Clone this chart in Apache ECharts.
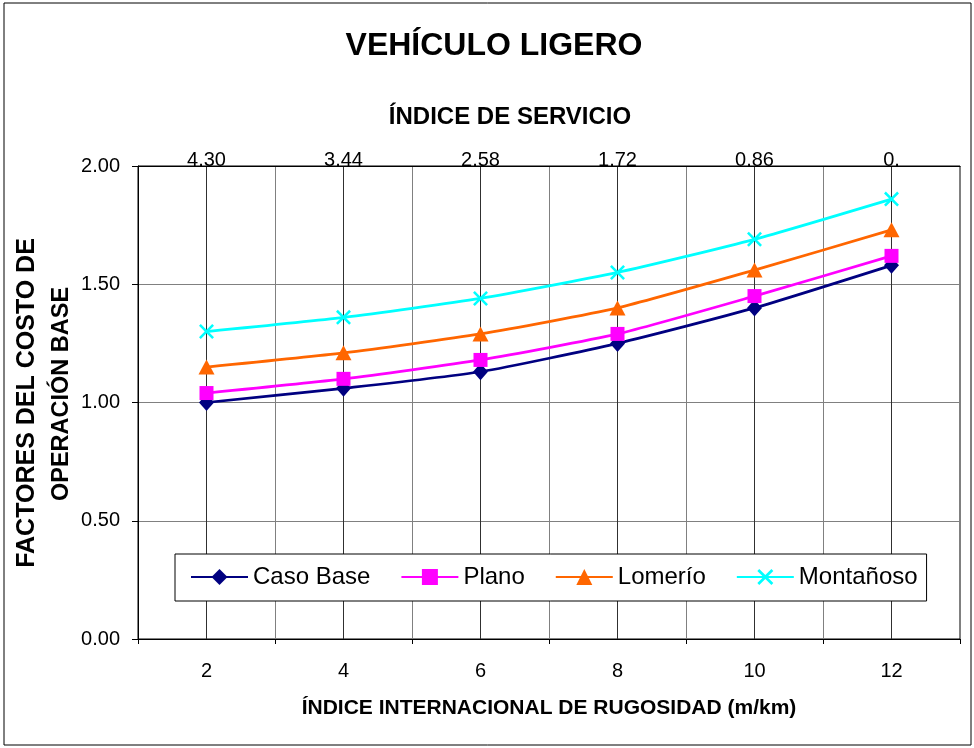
<!DOCTYPE html>
<html>
<head>
<meta charset="utf-8">
<script src="https://cdn.jsdelivr.net/npm/echarts@6/dist/echarts.min.js"></script>
<style>
  html, body { margin: 0; padding: 0; background: #fff; }
  #chart { width: 974px; height: 748px; }
</style>
</head>
<body>
<div id="chart"></div>
<script>
var axisCats = ['1', '2', '3', '4', '5', '6', '7', '8', '9', '10', '11', '12', '13'];
var xValues = ['2', '4', '6', '8', '10', '12'];
var topLabels = ['4.30', '3.44', '2.58', '1.72', '0.86', '0.'];
var casoBase = [1.00, 1.06, 1.13, 1.25, 1.40, 1.58];
var plano = [1.04, 1.10, 1.18, 1.29, 1.45, 1.62];
var lomerio = [1.15, 1.21, 1.29, 1.40, 1.56, 1.73];
var montanoso = [1.30, 1.36, 1.44, 1.55, 1.69, 1.86];

var fontName = '"Liberation Sans", Arial, sans-serif';
var crossPath = 'path://M0,1.2L1.2,0L5,3.8L8.8,0L10,1.2L6.2,5L10,8.8L8.8,10L5,6.2L1.2,10L0,8.8L3.8,5Z';

function pairs(vals) {
    return vals.map(function (v, i) { return [xValues[i], v]; });
}

function lineSeries(name, vals, color, symbol, size) {
    return {
        name: name,
        type: 'line',
        data: pairs(vals),
        smooth: 0.2,
        symbol: symbol,
        symbolSize: size,
        showAllSymbol: true,
        lineStyle: { color: color, width: 2.75 },
        itemStyle: { color: color },
        emphasis: { disabled: true },
        z: 3
    };
}

var dom = document.getElementById('chart');
var myChart = echarts.init(dom);
var option = {
    animation: false,
    backgroundColor: '#fff',
    textStyle: { fontFamily: fontName },
    grid: {
        left: 138, right: 14, top: 166, bottom: 109,
        show: true, borderColor: '#000', borderWidth: 1
    },
    legend: {
        left: 175, top: 554,
        backgroundColor: '#fff',
        borderColor: '#000', borderWidth: 1,
        padding: [11, 9, 12, 15],
        itemWidth: 57, itemHeight: 20, itemGap: 30,
        selectedMode: false,
        textStyle: { fontSize: 24, color: '#000', fontFamily: fontName },
        data: ['Caso Base', 'Plano', 'Lomerío', 'Montañoso']
    },
    xAxis: [{
        type: 'category',
        data: axisCats,
        boundaryGap: false,
        position: 'bottom',
        axisLine: { lineStyle: { color: '#000', width: 1 } },
        axisTick: {
            show: true, length: 5,
            interval: function (i) { return i % 2 === 0; },
            lineStyle: { color: '#000' }
        },
        axisLabel: {
            interval: function (i) { return i % 2 === 1; },
            margin: 22, fontSize: 20, color: '#000', fontFamily: fontName
        },
        splitLine: {
            show: true, interval: 0,
            lineStyle: { color: ['#808080', '#303030'], width: 1 }
        }
    }, {
        type: 'category',
        data: axisCats,
        boundaryGap: false,
        position: 'top',
        axisLine: { show: true, lineStyle: { color: '#000' } },
        axisTick: { show: false },
        axisLabel: {
            interval: function (i) { return i % 2 === 1; },
            margin: -4,
            fontSize: 20, color: '#000', fontFamily: fontName,
            formatter: function (v) {
                var idx = xValues.indexOf(v);
                return idx >= 0 ? topLabels[idx] : '';
            }
        },
        splitLine: { show: false }
    }],
    yAxis: {
        type: 'value',
        min: 0, max: 2, interval: 0.5,
        axisLine: { show: true, lineStyle: { color: '#000' } },
        axisTick: { show: true, length: 6, lineStyle: { color: '#000' } },
        axisLabel: {
            margin: 18, fontSize: 20, color: '#000', fontFamily: fontName,
            formatter: function (v) { return v.toFixed(2); }
        },
        splitLine: { lineStyle: { color: '#808080', width: 1 } }
    },
    graphic: [{
        type: 'rect',
        shape: { x: 4, y: 3, width: 967, height: 742 },
        style: { fill: 'none', stroke: '#000', lineWidth: 1 },
        silent: true
    }, {
        type: 'text', x: 494, y: 46,
        style: { text: 'VEHÍCULO LIGERO', font: 'bold 32px ' + fontName, fill: '#000', align: 'center', verticalAlign: 'middle' }
    }, {
        type: 'text', x: 510, y: 117,
        style: { text: 'ÍNDICE DE SERVICIO', font: 'bold 24px ' + fontName, fill: '#000', align: 'center', verticalAlign: 'middle' }
    }, {
        type: 'text', x: 549, y: 708,
        style: { text: 'ÍNDICE INTERNACIONAL DE RUGOSIDAD (m/km)', font: 'bold 21px ' + fontName, fill: '#000', align: 'center', verticalAlign: 'middle' }
    }, {
        type: 'text', x: 27, y: 403, rotation: Math.PI / 2,
        style: { text: 'FACTORES DEL COSTO DE', font: 'bold 25px ' + fontName, fill: '#000', align: 'center', verticalAlign: 'middle' }
    }, {
        type: 'text', x: 62, y: 394, rotation: Math.PI / 2,
        style: { text: 'OPERACIÓN BASE', font: 'bold 23.5px ' + fontName, fill: '#000', align: 'center', verticalAlign: 'middle' }
    }],
    series: [
        lineSeries('Caso Base', casoBase, '#000080', 'diamond', [15, 17]),
        lineSeries('Plano', plano, '#FF00FF', 'rect', 14),
        lineSeries('Lomerío', lomerio, '#FF6600', 'triangle', [16, 15]),
        lineSeries('Montañoso', montanoso, '#00FFFF', crossPath, 15)
    ]
};

if (option && typeof option === 'object') {
    myChart.setOption(option, true);
}
</script>
</body>
</html>
